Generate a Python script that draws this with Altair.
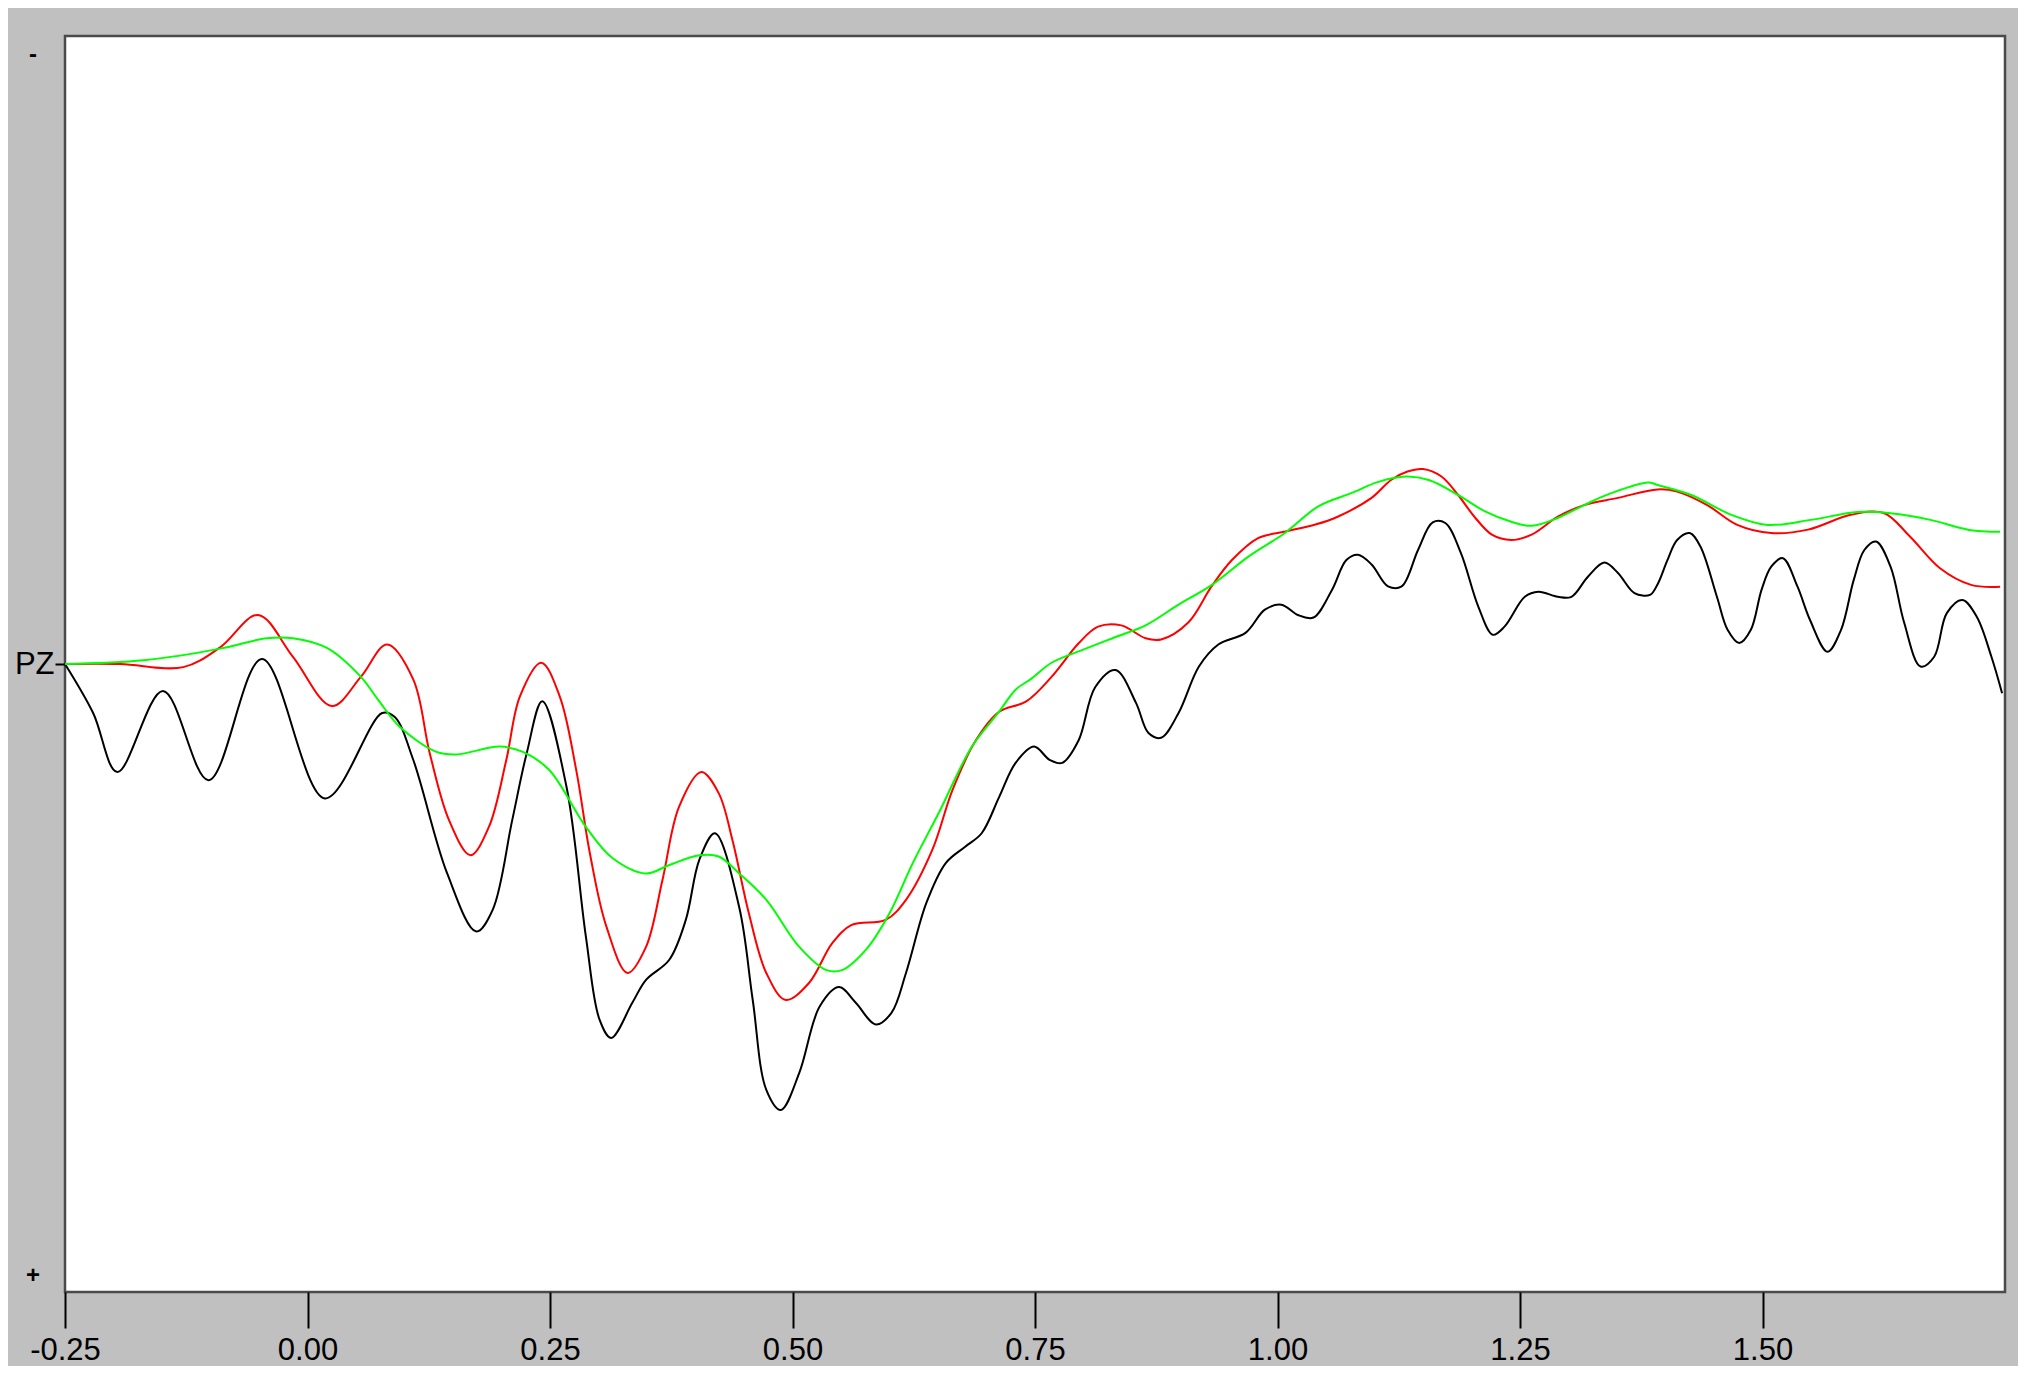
import altair as alt
import pandas as pd

# time in seconds, amplitude in microvolts (negative plotted up)
t_black = [-0.25, -0.221, -0.196, -0.149, -0.102, -0.047, 0.018, 0.077, 0.090, 0.109, 0.144, 0.174, 0.191,
           0.211, 0.226, 0.242, 0.267, 0.287, 0.301, 0.313, 0.335, 0.349, 0.373, 0.390, 0.404, 0.420, 0.445,
           0.459, 0.473, 0.488, 0.507, 0.528, 0.548, 0.565, 0.586, 0.602, 0.617, 0.638, 0.658, 0.678, 0.695,
           0.713, 0.730, 0.749, 0.765, 0.778, 0.795, 0.812, 0.833, 0.854, 0.867, 0.880, 0.898, 0.919, 0.939,
           0.967, 0.987, 1.004, 1.021, 1.037, 1.056, 1.071, 1.083, 1.097, 1.114, 1.128, 1.145, 1.160, 1.173,
           1.189, 1.207, 1.222, 1.234, 1.255, 1.269, 1.289, 1.303, 1.320, 1.337, 1.351, 1.368, 1.384, 1.392,
           1.402, 1.412, 1.425, 1.436, 1.453, 1.464, 1.476, 1.488, 1.499, 1.509, 1.521, 1.536, 1.549, 1.567,
           1.581, 1.594, 1.605, 1.617, 1.632, 1.646, 1.663, 1.677, 1.690, 1.706, 1.721, 1.736, 1.747]
v_black = [0.0, 1.56, 3.44, 0.86, 3.70, -0.16, 4.28, 1.56, 1.69, 3.05, 6.67, 8.52, 7.82,
           4.98, 2.84, 1.19, 3.91, 8.68, 11.32, 11.91, 10.78, 10.06, 9.42, 8.15, 6.23, 5.39, 7.74,
           10.70, 13.56, 14.20, 13.02, 10.91, 10.29, 10.78, 11.48, 11.11, 9.84, 7.61, 6.34, 5.82, 5.39,
           4.24, 3.15, 2.63, 3.05, 3.15, 2.43, 0.74, 0.19, 1.23, 2.20, 2.35, 1.56, 0.08, -0.62,
           -0.99, -1.73, -1.89, -1.56, -1.48, -2.35, -3.31, -3.48, -3.17, -2.47, -2.47, -3.64, -4.51, -4.49,
           -3.54, -1.83, -0.93, -1.19, -2.14, -2.30, -2.14, -2.14, -2.78, -3.23, -2.90, -2.26, -2.20, -2.55,
           -3.31, -3.95, -4.17, -3.74, -2.14, -1.09, -0.67, -1.09, -2.36, -3.10, -3.37, -2.47, -1.40, -0.39,
           -1.09, -2.67, -3.63, -3.90, -3.10, -1.32, 0.08, -0.23, -1.62, -2.04, -1.50, -0.23, 0.93]

t_red = [-0.25, -0.193, -0.128, -0.090, -0.051, -0.015, 0.025, 0.055, 0.082, 0.109, 0.126, 0.146, 0.168,
         0.187, 0.205, 0.219, 0.241, 0.260, 0.277, 0.291, 0.308, 0.330, 0.349, 0.366, 0.383, 0.406, 0.424,
         0.438, 0.455, 0.473, 0.493, 0.517, 0.541, 0.561, 0.596, 0.617, 0.644, 0.665, 0.689, 0.713, 0.741,
         0.767, 0.795, 0.815, 0.839, 0.864, 0.880, 0.908, 0.932, 0.953, 0.980, 1.008, 1.039, 1.062, 1.097,
         1.117, 1.134, 1.150, 1.169, 1.186, 1.203, 1.221, 1.241, 1.262, 1.289, 1.316, 1.351, 1.392, 1.412,
         1.443, 1.474, 1.509, 1.547, 1.591, 1.625, 1.652, 1.683, 1.715, 1.745]
v_red = [0.0, 0.0, 0.10, -0.53, -1.56, -0.23, 1.34, 0.41, -0.62, 0.49, 2.84, 4.98, 6.09,
         5.19, 3.05, 1.03, -0.04, 1.03, 3.37, 6.01, 8.35, 9.84, 9.01, 6.87, 4.55, 3.44, 4.12,
         5.60, 7.94, 9.84, 10.70, 10.16, 8.89, 8.31, 8.15, 7.51, 5.93, 4.01, 2.43, 1.52, 1.19,
         0.41, -0.66, -1.19, -1.23, -0.82, -0.78, -1.32, -2.47, -3.31, -4.01, -4.22, -4.44, -4.69, -5.29,
         -5.86, -6.13, -6.21, -5.97, -5.39, -4.69, -4.12, -3.95, -4.12, -4.69, -5.06, -5.29, -5.56, -5.49,
         -5.06, -4.43, -4.17, -4.28, -4.75, -4.81, -4.06, -3.05, -2.52, -2.46]

t_green = [-0.25, -0.169, -0.090, -0.042, -0.015, 0.020, 0.055, 0.074, 0.095, 0.133, 0.154, 0.198, 0.222,
           0.249, 0.287, 0.314, 0.349, 0.373, 0.404, 0.424, 0.445, 0.473, 0.507, 0.535, 0.551, 0.576, 0.600,
           0.624, 0.651, 0.685, 0.713, 0.730, 0.747, 0.767, 0.799, 0.833, 0.864, 0.898, 0.932, 0.970, 1.008,
           1.042, 1.076, 1.104, 1.132, 1.156, 1.186, 1.214, 1.241, 1.262, 1.289, 1.316, 1.344, 1.382, 1.392,
           1.426, 1.468, 1.505, 1.550, 1.598, 1.632, 1.673, 1.713, 1.745]
v_green = [0.0, -0.12, -0.49, -0.82, -0.82, -0.51, 0.41, 1.19, 2.00, 2.80, 2.88, 2.63, 2.80,
           3.37, 5.19, 6.17, 6.67, 6.40, 6.09, 6.13, 6.67, 7.51, 9.01, 9.75, 9.75, 9.09, 7.94,
           6.34, 4.73, 2.63, 1.52, 0.82, 0.45, -0.04, -0.45, -0.86, -1.23, -1.89, -2.51, -3.42, -4.18,
           -5.02, -5.44, -5.80, -5.97, -5.86, -5.39, -4.86, -4.53, -4.40, -4.65, -5.06, -5.44, -5.78, -5.70,
           -5.39, -4.75, -4.43, -4.59, -4.84, -4.80, -4.59, -4.27, -4.21]

x_ticks = [-0.25, 0.0, 0.25, 0.5, 0.75, 1.0, 1.25, 1.5]
channel_label = "PZ"
sign_amp = [-19.4, 19.5]
sign_text = ["-", "+"]

FONT = "Liberation Sans"

x_axis = alt.Axis(values=x_ticks,
                  labelExpr="replace(format(datum.value, '.2f'), '\u2212', '-')",
                  title=None, grid=False, domain=False, tickColor="black", tickWidth=2,
                  tickSize=36, labelFontSize=31, labelFont=FONT, labelColor="black",
                  labelPadding=7, labelFlush=False, labelOverlap=False, labelBound=False)
y_axis = alt.Axis(values=[0], labelExpr=f"'{channel_label}'", title=None, grid=False,
                  domain=False, tickSize=10, tickColor="black", tickWidth=2,
                  labelFontSize=31, labelFont=FONT, labelColor="black", labelPadding=1)

x_scale = alt.Scale(domain=[-0.25, 1.75], nice=False, zero=False)
y_scale = alt.Scale(domain=[-20, 20], reverse=True, nice=False, zero=False)


def series(t, v, color):
    df = pd.DataFrame({"time": t, "amp": v})
    return alt.Chart(df).mark_line(color=color, strokeWidth=2, interpolate="catmull-rom").encode(
        x=alt.X("time:Q", scale=x_scale, axis=x_axis),
        y=alt.Y("amp:Q", scale=y_scale, axis=y_axis),
    )


signs = alt.Chart(pd.DataFrame({"amp": sign_amp, "sym": sign_text})).mark_text(
    fontSize=24, fontWeight="bold", font=FONT, align="center", baseline="middle", color="black"
).encode(
    x=alt.value(-32),
    y=alt.Y("amp:Q", scale=y_scale, axis=y_axis),
    text="sym:N",
)

chart = alt.layer(
    series(t_black, v_black, "#000000"),
    series(t_red, v_red, "#ff0000"),
    series(t_green, v_green, "#00ff00"),
    signs,
).properties(
    width=1940, height=1256,
    autosize=alt.AutoSizeParams(type="none"),
    padding={"left": 57, "top": 28, "right": 13, "bottom": 74},
).configure(
    background="#c0c0c0",
).configure_view(
    fill="white", stroke="#4a4a4a", strokeWidth=2.5,
)

chart.save("out.html", embed_options={"renderer": "svg", "actions": False})
